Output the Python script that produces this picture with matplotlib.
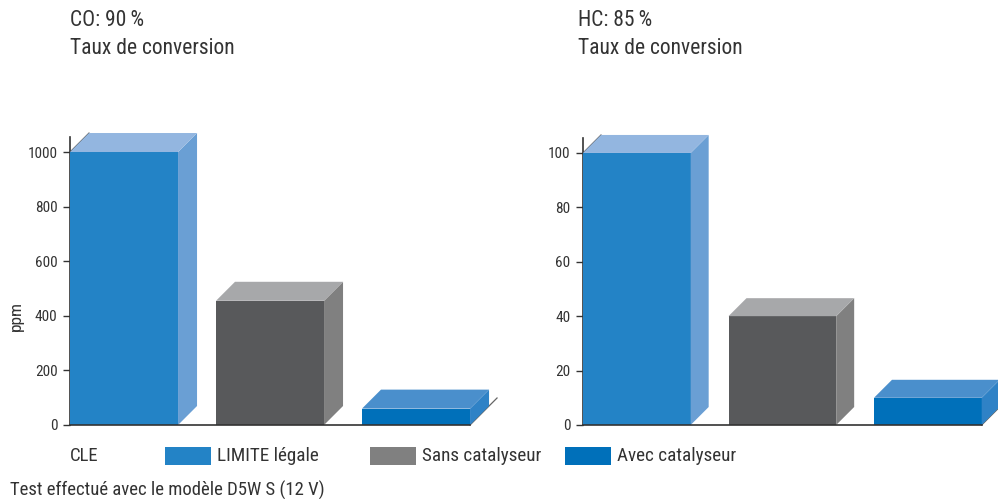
import matplotlib.pyplot as plt
from matplotlib.patches import Polygon, Rectangle

plt.rcParams['font.family'] = ['Roboto Condensed', 'DejaVu Sans']

series = ['LIMITE légale', 'Sans catalyseur', 'Avec catalyseur']
co_values = [1000, 455, 60]
hc_values = [100, 40, 10]
co_ticks = [0, 200, 400, 600, 800, 1000]
hc_ticks = [0, 20, 40, 60, 80, 100]

front = ['#2383c6', '#58595b', '#0070ba']
side = ['#6a9fd4', '#808080', '#2f82c6']
top = ['#93b6e0', '#a7a8aa', '#4a8fcc']

W, H = 998, 499
fig = plt.figure(figsize=(W / 100, H / 100), dpi=100)


def px_axes(x0, x1, y0, y1):
    return fig.add_axes([x0 / W, 1 - y1 / H, (x1 - x0) / W, (y1 - y0) / H])


def draw(ax, values, ticks, ymax, xmax, ppx, ppy, dpx):
    # ppx / ppy: pixels per data unit, dpx: depth in pixels
    ax.set_xlim(0, xmax)
    ax.set_ylim(0, ymax)
    width = 0.74
    dx = dpx / ppx
    dy = dpx / ppy
    for i, v in enumerate(values):
        ax.add_patch(Rectangle((i, 0), width, v, fc=front[i], ec='none', zorder=3))
        ax.add_patch(Polygon([(i + width, 0), (i + width + dx, dy), (i + width + dx, v + dy),
                              (i + width, v)], fc=side[i], ec='none', zorder=3, clip_on=False))
        ax.add_patch(Polygon([(i, v), (i + dx, v + dy), (i + width + dx, v + dy), (i + width, v)],
                             fc=top[i], ec='none', zorder=3, clip_on=False))
    end = len(values) - 1 + width
    ax.plot([0, end], [0, 0], color='#333333', lw=1.2, zorder=4, clip_on=False)
    ax.plot([end, end + 27 / ppx], [0, 27 / ppy], color='#666666', lw=0.9, zorder=2, clip_on=False)
    ax.plot([0, dx], [values[0], values[0] + dy], color='#555555', lw=0.8, zorder=2, clip_on=False)
    for s in ['top', 'right', 'bottom']:
        ax.spines[s].set_visible(False)
    ax.spines['left'].set_color('#333333')
    ax.spines['left'].set_linewidth(1.2)
    ax.set_xticks([])
    ax.set_yticks(ticks)
    ax.tick_params(axis='y', length=5, width=1, color='#333333', labelsize=11,
                   labelcolor='#333333', pad=4)


ax1 = px_axes(70, 498, 137, 425)
draw(ax1, co_values, co_ticks, 1055, 428 / 146, 146, 0.273, 19)
ax1.set_ylabel('ppm', fontsize=12.5, color='#333333', va='center')
ax1.yaxis.set_label_coords((16 - 70) / 428, 0.38)

ax2 = px_axes(583, 998, 138, 425)
draw(ax2, hc_values, hc_ticks, 105.5, 415 / 145.5, 145.5, 2.72, 18)

tc = '#333333'
fig.text(70 / W, 1 - 21 / H, 'CO: 90\u2009%', fontsize=15.5, color=tc, va='center')
fig.text(70 / W, 1 - 48 / H, 'Taux de conversion', fontsize=15.5, color=tc, va='center')
fig.text(578 / W, 1 - 21 / H, 'HC: 85\u2009%', fontsize=15.5, color=tc, va='center')
fig.text(578 / W, 1 - 48 / H, 'Taux de conversion', fontsize=15.5, color=tc, va='center')

# legend row
fig.text(70 / W, 1 - 456 / H, 'CLE', fontsize=13.5, color=tc, va='center')
leg_x = [165, 370, 565]
leg_colors = ['#2383c6', '#808080', '#0070ba']
for x, c, name in zip(leg_x, leg_colors, series):
    fig.patches.append(Rectangle((x / W, 1 - 465 / H), 46 / W, 18 / H, fc=c, ec='none',
                                 transform=fig.transFigure))
    fig.text((x + 52) / W, 1 - 456 / H, name, fontsize=13.8, color=tc, va='center')

fig.text(10 / W, 1 - 490 / H, 'Test effectué avec le modèle D5W S (12 V)', fontsize=13.5,
         color=tc, va='center')

fig.savefig('out.png', dpi=100)
